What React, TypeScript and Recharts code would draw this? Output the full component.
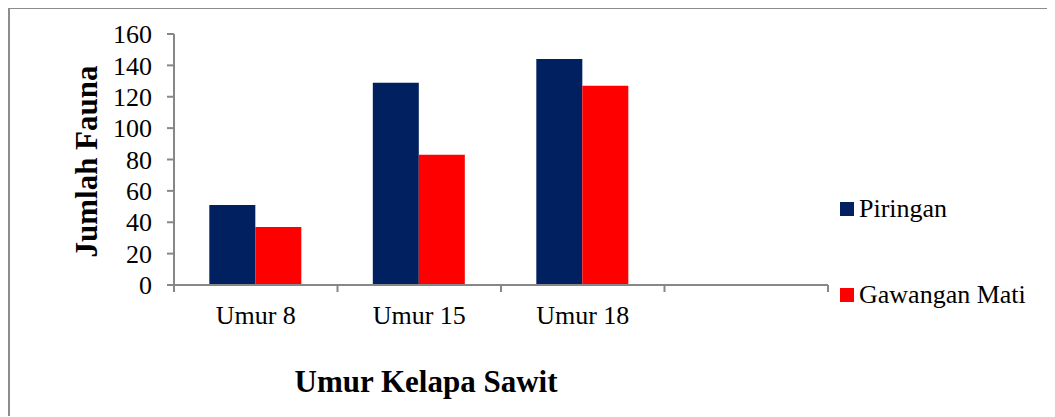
import React from "react";
import { BarChart, Bar, XAxis, YAxis, Legend } from "recharts";

const categories = ["Umur 8", "Umur 15", "Umur 18", ""];
const piringan: (number | null)[] = [51, 129, 144, null];
const gawanganMati: (number | null)[] = [37, 83, 127, null];
const yTicks = [0, 20, 40, 60, 80, 100, 120, 140, 160];
const seriesNames = ["Piringan", "Gawangan Mati"];
const seriesColors = ["#002060", "#FF0000"];
const xTitle = "Umur Kelapa Sawit";
const yTitle = "Jumlah Fauna";

const data = categories.map((c, i) => ({
  name: c,
  [seriesNames[0]]: piringan[i],
  [seriesNames[1]]: gawanganMati[i],
}));

const FONT = "'Liberation Serif', 'Times New Roman', serif";
const AXIS = "#878787";

const XTick = (props: any) => {
  const { x, y, payload, index, width } = props;
  const half =
    payload && typeof payload.offset === "number" && payload.offset > 0
      ? payload.offset
      : width / categories.length / 2;
  const isLast = index === categories.length - 1;
  return (
    <g>
      <line x1={x - half} x2={x - half} y1={y} y2={y + 7} stroke={AXIS} strokeWidth={2} />
      {isLast && (
        <line x1={x + half} x2={x + half} y1={y} y2={y + 7} stroke={AXIS} strokeWidth={2} />
      )}
      <text x={x} y={y + 39} textAnchor="middle" fontSize={26} fill="#000" fontFamily={FONT}>
        {payload.value}
      </text>
    </g>
  );
};

const XTitle = (props: any) => {
  const vb = props.viewBox || {};
  return (
    <text
      x={vb.x + 252}
      y={vb.y + 107}
      textAnchor="middle"
      fontSize={31}
      fontWeight="bold"
      fill="#000"
      fontFamily={FONT}
    >
      {xTitle}
    </text>
  );
};

const YTitle = (props: any) => {
  const vb = props.viewBox || {};
  const cx = vb.x + 76;
  const cy = vb.y + vb.height / 2 + 2;
  return (
    <text
      x={cx}
      y={cy}
      transform={`rotate(-90, ${cx}, ${cy})`}
      textAnchor="middle"
      dominantBaseline="central"
      fontSize={31}
      fontWeight="bold"
      fill="#000"
      fontFamily={FONT}
    >
      {yTitle}
    </text>
  );
};

const LegendContent = (props: any) => {
  const payload = [...(props.payload || [])].sort(
    (a: any, b: any) => seriesNames.indexOf(a.value) - seriesNames.indexOf(b.value)
  );
  return (
    <div style={{ fontFamily: FONT }}>
      {payload.map((p: any, i: number) => (
        <div
          key={i}
          style={{
            display: "flex",
            alignItems: "center",
            height: 40,
            marginBottom: i === 0 ? 46 : 0,
          }}
        >
          <div style={{ width: 14, height: 14, background: p.color, marginRight: 5 }} />
          <span style={{ fontSize: 26, color: "#000", whiteSpace: "nowrap" }}>{p.value}</span>
        </div>
      ))}
    </div>
  );
};

export default function App() {
  return (
    <div
      style={{
        width: 1045,
        height: 407,
        borderTop: `2px solid #8c8c8c`,
        borderLeft: `2px solid #8c8c8c`,
        marginTop: -1,
        background: "#fff",
        fontFamily: FONT,
      }}
    >
      <BarChart
        width={1045}
        height={407}
        data={data}
        margin={{ top: 25, right: 227, bottom: 71, left: 0 }}
        barGap={0}
        barCategoryGap="21.6%"
      >
        <XAxis
          dataKey="name"
          height={60}
          interval={0}
          tickLine={false}
          tickSize={0}
          tickMargin={0}
          axisLine={{ stroke: AXIS, strokeWidth: 2 }}
          tick={<XTick />}
          label={<XTitle />}
        />
        <YAxis
          width={164}
          domain={[0, 160]}
          ticks={yTicks}
          interval={0}
          tickSize={7}
          tickMargin={15}
          axisLine={{ stroke: AXIS, strokeWidth: 2 }}
          tickLine={{ stroke: AXIS, strokeWidth: 2 }}
          tick={{ fontSize: 26, fill: "#000", fontFamily: FONT }}
          label={<YTitle />}
        />
        <Legend
          layout="vertical"
          align="center"
          verticalAlign="middle"
          wrapperStyle={{ left: 830, top: 180, width: 215 }}
          content={<LegendContent />}
        />
        {seriesNames.map((s, i) => (
          <Bar key={s} dataKey={s} fill={seriesColors[i]} isAnimationActive={false} />
        ))}
      </BarChart>
    </div>
  );
}
